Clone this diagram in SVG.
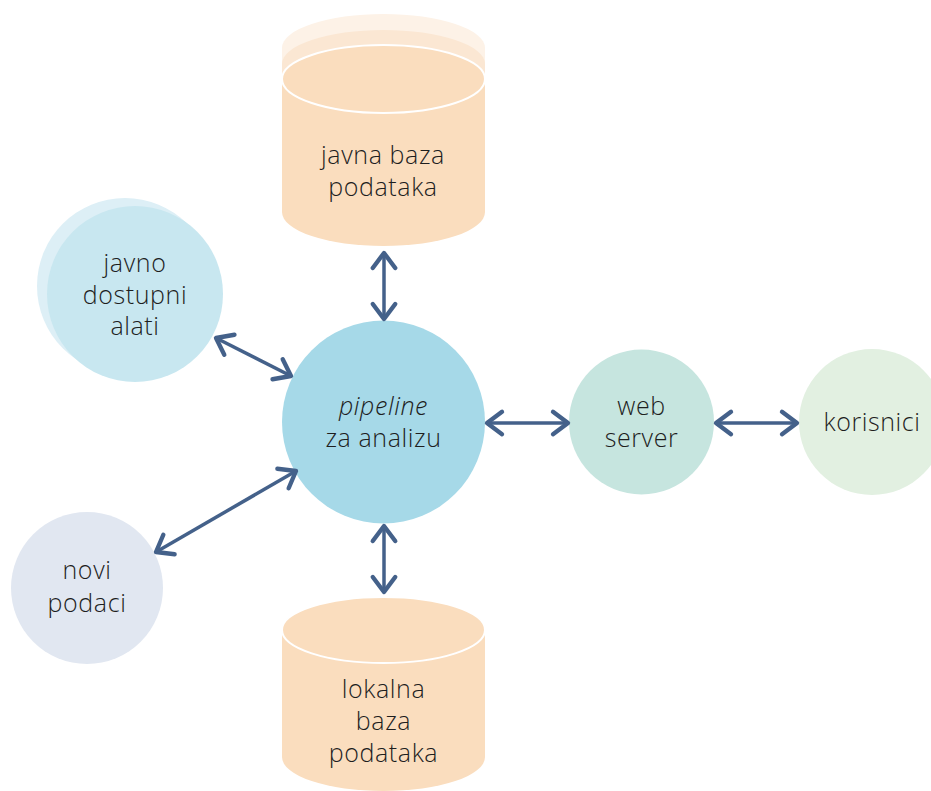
<svg xmlns="http://www.w3.org/2000/svg" width="931" height="791" viewBox="0 0 931 791">
<defs>
<style>
text{font-family:"Open Sans","Noto Sans","Liberation Sans",sans-serif;font-size:25px;font-weight:300;letter-spacing:0.6px;fill:#1e1e1e;text-anchor:middle}
.conn line{stroke:#44618A;stroke-width:3.5;fill:none}
.cyl{fill:#FADDBE}
</style>
<marker id="ah" markerUnits="userSpaceOnUse" markerWidth="30" markerHeight="30" viewBox="-16 -12 20 24" refX="0" refY="0" orient="auto-start-reverse">
<path d="M-12,-9 L0,0 L-12,9" fill="none" stroke="#44618A" stroke-width="3.5" stroke-linecap="round" stroke-linejoin="round"/>
</marker>
</defs>
<rect width="931" height="791" fill="#fff"/>
<g id="javna-baza">
<path d="M282,48 L282,181 A101.5,34 0 0 0 485,181 L485,48 A101.5,34 0 0 0 282,48 Z" fill="#FDF2E7"/>
<path d="M282,64 L282,197 A101.5,34 0 0 0 485,197 L485,64 A101.5,34 0 0 0 282,64 Z" fill="#FBE7D3"/>
<path class="cyl" d="M282,79 L282,212 A101.5,34 0 0 0 485,212 L485,79 A101.5,34 0 0 0 282,79 Z"/>
<ellipse cx="383.5" cy="79" rx="101.5" ry="34" fill="#FADDBE" stroke="#fff" stroke-width="2"/>
<text x="383" y="164">javna baza</text>
<text x="383" y="196">podataka</text>
</g>
<g id="lokalna-baza">
<path class="cyl" d="M282,630 L282,757 A101.5,34 0 0 0 485,757 L485,630 A101.5,33 0 0 0 282,630 Z"/>
<ellipse cx="383.5" cy="630" rx="101.5" ry="33" fill="#FADDBE" stroke="#fff" stroke-width="2"/>
<text x="383.5" y="698">lokalna</text>
<text x="383.5" y="730">baza</text>
<text x="383.5" y="762">podataka</text>
</g>
<g id="alati">
<circle cx="125" cy="286" r="88" fill="#DDEFF6"/>
<circle cx="135" cy="294" r="88" fill="#C8E7F0"/>
<text x="135" y="272">javno</text>
<text x="135" y="304">dostupni</text>
<text x="135" y="335">alati</text>
</g>
<g id="pipeline">
<circle cx="383.5" cy="422" r="101.5" fill="#A6D9E8"/>
<text x="383.5" y="415" font-style="italic">pipeline</text>
<text x="383.5" y="447">za analizu</text>
</g>
<g id="web-server">
<circle cx="641.5" cy="422" r="72.5" fill="#C6E5DF"/>
<text x="641.5" y="415">web</text>
<text x="641.5" y="447">server</text>
</g>
<g id="korisnici">
<circle cx="872" cy="422" r="73" fill="#E2F0E1"/>
<text x="872" y="431">korisnici</text>
</g>
<g id="novi-podaci">
<circle cx="87" cy="588" r="76" fill="#E1E7F1"/>
<text x="87" y="579">novi</text>
<text x="87" y="612">podaci</text>
</g>
<g class="conn" id="connectors">
<line x1="384" y1="253" x2="384" y2="319" marker-start="url(#ah)" marker-end="url(#ah)"/>
<line x1="384" y1="526" x2="384" y2="592" marker-start="url(#ah)" marker-end="url(#ah)"/>
<line x1="487" y1="423" x2="568" y2="423" marker-start="url(#ah)" marker-end="url(#ah)"/>
<line x1="716" y1="423" x2="797" y2="423" marker-start="url(#ah)" marker-end="url(#ah)"/>
<line x1="216" y1="338" x2="291" y2="376" marker-start="url(#ah)" marker-end="url(#ah)"/>
<line x1="156" y1="552" x2="296" y2="471" marker-start="url(#ah)" marker-end="url(#ah)"/>
</g>
</svg>
